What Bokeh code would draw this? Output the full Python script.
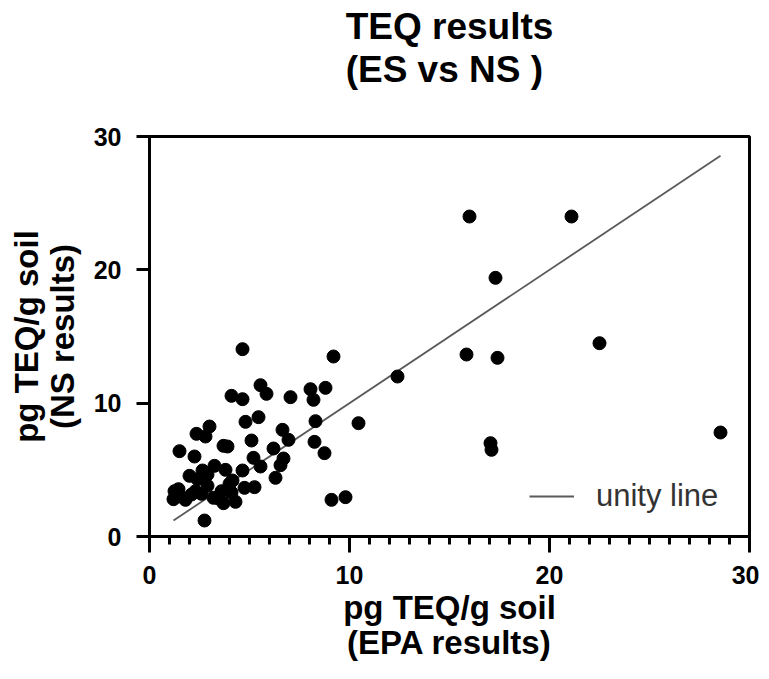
from bokeh.plotting import figure
from bokeh.models import SingleIntervalTicker, Range1d, Legend, LegendItem, Title
from bokeh.embed import file_html
from bokeh.resources import INLINE

# EPA results (x) vs NS results (y), pg TEQ/g soil
epa_results = [
    16.0, 21.1, 17.3, 22.5, 15.85, 17.4, 12.4, 4.65, 9.2, 28.55, 10.45, 17.05, 17.1, 9.1, 9.8, 2.75,
    5.55, 5.85, 4.1, 4.65, 7.05, 8.05, 8.8, 8.2, 4.8, 5.45, 8.3, 6.65, 6.95, 8.25, 8.75, 5.1,
    3.0, 2.35, 2.8, 3.7, 3.9, 1.5, 2.25, 6.2, 5.2, 5.55, 6.7, 6.55, 4.65, 6.3, 4.15, 4.75, 5.25, 3.8,
    3.25, 2.65, 2.4, 2.9, 2.9, 4.0, 3.6, 3.2, 3.7, 4.3, 4.1, 2.6, 1.25, 1.2, 1.55, 1.8, 2.1, 1.45, 2.3,
    3.45, 2.0,
]
ns_results = [
    24.0, 24.0, 19.4, 14.5, 13.65, 13.4, 12.0, 14.05, 13.5, 7.8, 8.5, 7.0, 6.5, 2.75, 2.95, 1.2,
    11.35, 10.7, 10.55, 10.3, 10.45, 11.05, 11.15, 10.25, 8.6, 8.95, 8.65, 8.0, 7.25, 7.1, 6.25, 7.2,
    8.25, 7.7, 7.5, 6.8, 6.75, 6.4, 6.0, 6.6, 5.9, 5.25, 5.85, 5.35, 4.95, 4.4, 4.2, 3.65, 3.7, 5.0,
    5.3, 4.95, 4.3, 4.65, 3.8, 3.95, 3.4, 2.9, 2.5, 2.6, 3.3, 3.2, 3.4, 2.8, 3.0, 2.75, 3.15, 3.55, 3.4,
    2.85, 4.55,
]
unity_x = [min(epa_results), max(epa_results)]
unity_y = unity_x
legend_text = "unity line"
title_text = "TEQ results\n(ES vs NS )"

FONT = "Liberation Sans"

p = figure(width=759, height=671, output_backend="svg", toolbar_location=None,
           x_range=Range1d(0, 30), y_range=Range1d(0, 30),
           min_border_left=149, min_border_right=10, min_border_top=136, min_border_bottom=135,
           title=None)

# spacer between frame and title
p.add_layout(Title(text=" ", text_font=FONT, text_font_size="20px", standoff=22), "above")
p.add_layout(Title(text=title_text, align="center", text_font=FONT, text_font_size="37px",
                   text_font_style="bold", text_color="black", text_line_height=1.05,
                   standoff=0), "above")

p.grid.visible = False
p.background_fill_color = "white"
p.border_fill_color = "white"
p.outline_line_color = "black"
p.outline_line_width = 3
p.outline_line_alpha = 1.0

p.xaxis.ticker = SingleIntervalTicker(interval=10, num_minor_ticks=10)
p.yaxis.ticker = SingleIntervalTicker(interval=10, num_minor_ticks=0)

for ax in (p.xaxis[0], p.yaxis[0]):
    ax.axis_line_width = 3
    ax.axis_line_color = "black"
    ax.major_tick_line_width = 3
    ax.major_tick_line_color = "black"
    ax.minor_tick_line_width = 3
    ax.minor_tick_line_color = "black"
    ax.major_tick_in = 0
    ax.minor_tick_in = 0
    ax.major_label_text_font = FONT
    ax.major_label_text_font_style = "bold"
    ax.major_label_text_font_size = "25px"
    ax.major_label_text_color = "black"
    ax.axis_label_text_font = FONT
    ax.axis_label_text_font_style = "bold"
    ax.axis_label_text_font_size = "33px"
    ax.axis_label_text_color = "black"
    ax.axis_label_text_line_height = 0.97

p.xaxis.major_tick_out = 16
p.xaxis.minor_tick_out = 8
p.xaxis.major_label_standoff = 13
p.xaxis.axis_label = "pg TEQ/g soil\n(EPA results)"
p.xaxis.axis_label_standoff = 2

p.yaxis.major_tick_out = 13
p.yaxis.minor_tick_out = 0
p.yaxis.major_label_standoff = 15
p.yaxis.axis_label = "pg TEQ/g soil\n(NS results)"
p.yaxis.axis_label_standoff = 10
p.yaxis.major_label_orientation = "horizontal"

unity = p.line(unity_x, unity_y, line_color="#5a5a5a", line_width=1.8)
p.scatter(epa_results, ns_results, size=13, fill_color="black", line_color="black", marker="circle")

lg = Legend(items=[LegendItem(label=legend_text, renderers=[unity])])
lg.location = (380, 22)
lg.border_line_color = None
lg.background_fill_alpha = 0
lg.label_text_font = FONT
lg.label_text_font_size = "31px"
lg.label_text_color = "#333333"
lg.glyph_width = 45
lg.label_standoff = 22
lg.margin = 0
lg.padding = 0
p.add_layout(lg, "center")

open("out.html", "w").write(file_html(p, INLINE))
